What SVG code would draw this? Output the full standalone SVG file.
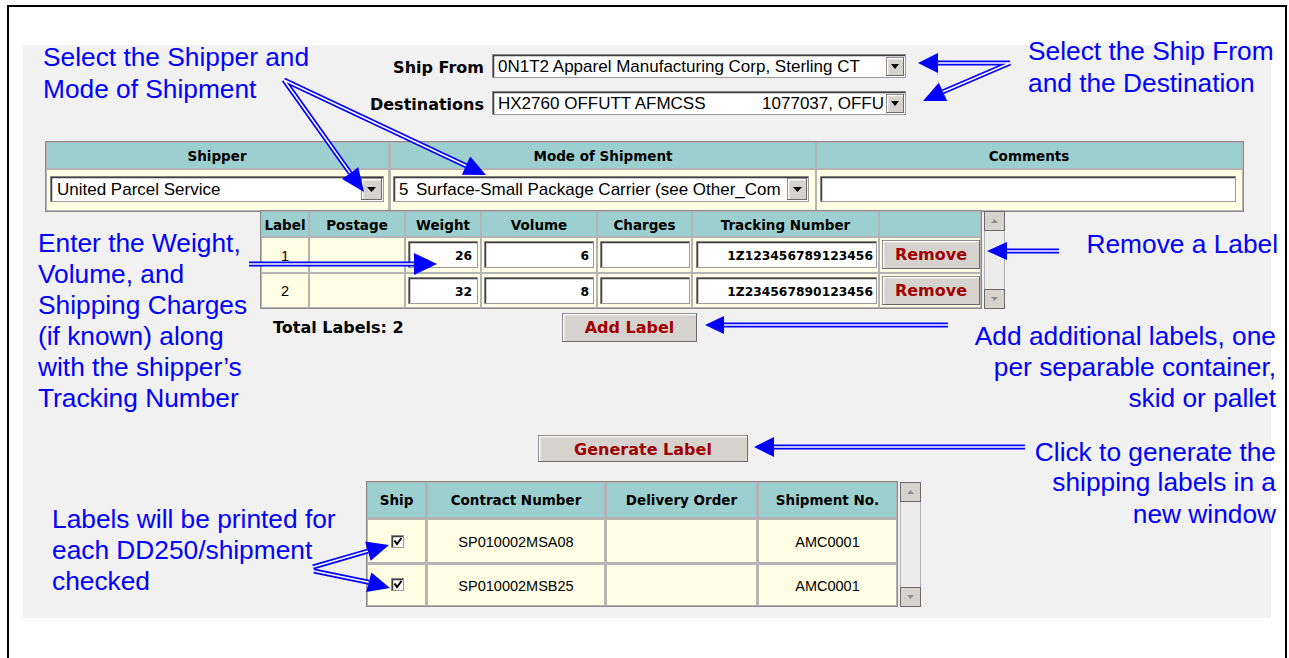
<svg xmlns="http://www.w3.org/2000/svg" width="1289" height="658" viewBox="0 0 1289 658">
<style>
.ann{font-family:"Liberation Sans",Arial,sans-serif;font-size:26.3px;fill:#0000ff}
.end{text-anchor:end}
.hdr{font-family:"DejaVu Sans",Verdana,sans-serif;font-weight:bold;font-size:13.5px;fill:#000;text-anchor:middle}
.lbl{font-family:"DejaVu Sans",Verdana,sans-serif;font-weight:bold;font-size:16px;fill:#000}
.ui{font-family:"Liberation Sans",Arial,sans-serif;font-size:17px;fill:#000}
.cell{font-family:"Liberation Sans",Arial,sans-serif;font-size:14.5px;fill:#000;text-anchor:middle}
.val{font-family:"DejaVu Sans",Verdana,sans-serif;font-weight:bold;font-size:12.3px;fill:#000;text-anchor:end}
.btxt{font-family:"DejaVu Sans",Verdana,sans-serif;font-weight:bold;font-size:16px;fill:#a00000;text-anchor:middle}
.th{fill:#9ccfcf}
.tr{fill:#fffde3}
.frame{fill:#b4b4b4;stroke:#8a8a8a;stroke-width:1}
.box{fill:#fff;stroke:#9a9a9a;stroke-width:1}
.boxd{fill:none;stroke:#404040;stroke-width:1.5}
.btn{fill:#d6d3ce;stroke:#6a6a6a;stroke-width:1}
.btnl{fill:none;stroke:#fff;stroke-width:1.5}
.tri{fill:#000}
.sb{fill:#ececec;stroke:#b0b0b0;stroke-width:1}
.sh1{fill:none;stroke:#0000ff;stroke-width:5}
.sh2{fill:none;stroke:#ffffff;stroke-width:1.6}
.head{fill:#0000ff}
</style>

<rect x="0" y="0" width="1289" height="658" fill="#ffffff"/>
<rect x="23" y="45" width="1248" height="573" fill="#f1f1f1"/>
<rect x="8" y="6" width="1278" height="700" fill="none" stroke="#000" stroke-width="2"/>

<!-- Ship From / Destinations -->
<g id="shipfrom">
  <text class="lbl end" x="484" y="73">Ship From</text>
  <rect class="box" x="492.5" y="54.5" width="413" height="23"/>
  <path class="boxd" d="M493.5,77 V55.5 H905"/>
  <text class="ui" x="498" y="72">0N1T2 Apparel Manufacturing Corp, Sterling CT</text>
  <rect class="btn" x="886.5" y="57.5" width="17" height="18"/>
  <path class="btnl" d="M887.5,75 V58.5 H903"/>
  <polygon class="tri" points="891,64 899,64 895,69"/>
</g>
<g id="destinations">
  <text class="lbl end" x="484" y="110">Destinations</text>
  <rect class="box" x="492.5" y="91.5" width="413" height="23"/>
  <path class="boxd" d="M493.5,114 V92.5 H905"/>
  <text class="ui" x="498" y="109">HX2760 OFFUTT AFMCSS</text>
  <text class="ui end" x="884" y="109">1077037, OFFU</text>
  <rect class="btn" x="886.5" y="94.5" width="17" height="18"/>
  <path class="btnl" d="M887.5,112 V95.5 H903"/>
  <polygon class="tri" points="891,101 899,101 895,106"/>
</g>

<!-- Shipper table -->
<g id="shipper-table">
  <rect class="frame" x="45.5" y="141.5" width="1198" height="70"/>
  <rect class="th" x="47" y="143" width="341" height="25"/>
  <rect class="th" x="391" y="143" width="424" height="25"/>
  <rect class="th" x="817" y="143" width="425" height="25"/>
  <rect class="tr" x="47" y="170" width="341" height="40"/>
  <rect class="tr" x="391" y="170" width="424" height="40"/>
  <rect class="tr" x="817" y="170" width="425" height="40"/>
  <text class="hdr" x="217" y="161">Shipper</text>
  <text class="hdr" x="603" y="161">Mode of Shipment</text>
  <text class="hdr" x="1029" y="161">Comments</text>
</g>
<g id="shipper-select">
  <rect class="box" x="50.5" y="176.5" width="333" height="25"/>
  <path class="boxd" d="M51.5,201 V177.5 H383"/>
  <text class="ui" x="57" y="195">United Parcel Service</text>
  <rect class="btn" x="361.5" y="178.5" width="20" height="21"/>
  <path class="btnl" d="M362.5,199 V179.5 H381"/>
  <polygon class="tri" points="367,187 376,187 371.5,192"/>
</g>
<g id="mode-select">
  <rect class="box" x="393.5" y="176.5" width="415" height="25"/>
  <path class="boxd" d="M394.5,201 V177.5 H808"/>
  <text class="ui" x="399" y="195">5</text>
  <text class="ui" x="416" y="195">Surface-Small Package Carrier (see Other_Com</text>
  <rect class="btn" x="787.5" y="178.5" width="19" height="21"/>
  <path class="btnl" d="M788.5,199 V179.5 H806"/>
  <polygon class="tri" points="793,187 802,187 797.5,192"/>
</g>
<g id="comments-input">
  <rect class="box" x="820.5" y="176.5" width="415" height="25"/>
  <path class="boxd" d="M821.5,201 V177.5 H1235"/>
</g>

<!-- Label table -->
<g id="label-table">
  <rect class="frame" x="260.5" y="210.5" width="721" height="98"/>
  <rect class="th" x="262" y="212" width="46" height="24"/>
  <rect class="th" x="310" y="212" width="94" height="24"/>
  <rect class="th" x="406" y="212" width="74" height="24"/>
  <rect class="th" x="482" y="212" width="114" height="24"/>
  <rect class="th" x="598" y="212" width="93" height="24"/>
  <rect class="th" x="693" y="212" width="185" height="24"/>
  <rect class="th" x="880" y="212" width="100" height="24"/>
  <rect class="tr" x="262" y="238" width="46" height="34"/>
  <rect class="tr" x="310" y="238" width="94" height="34"/>
  <rect class="tr" x="406" y="238" width="74" height="34"/>
  <rect class="tr" x="482" y="238" width="114" height="34"/>
  <rect class="tr" x="598" y="238" width="93" height="34"/>
  <rect class="tr" x="693" y="238" width="185" height="34"/>
  <rect class="tr" x="880" y="238" width="100" height="34"/>
  <rect class="tr" x="262" y="274" width="46" height="33"/>
  <rect class="tr" x="310" y="274" width="94" height="33"/>
  <rect class="tr" x="406" y="274" width="74" height="33"/>
  <rect class="tr" x="482" y="274" width="114" height="33"/>
  <rect class="tr" x="598" y="274" width="93" height="33"/>
  <rect class="tr" x="693" y="274" width="185" height="33"/>
  <rect class="tr" x="880" y="274" width="100" height="33"/>
  <text class="hdr" x="285" y="230">Label</text>
  <text class="hdr" x="357" y="230">Postage</text>
  <text class="hdr" x="443" y="230">Weight</text>
  <text class="hdr" x="539" y="230">Volume</text>
  <text class="hdr" x="644.5" y="230">Charges</text>
  <text class="hdr" x="785.5" y="230">Tracking Number</text>
  <text class="cell" x="285" y="261">1</text>
  <text class="cell" x="285" y="296">2</text>
</g>
<g id="row1-inputs">
  <rect class="box" x="408.5" y="241.5" width="69" height="26"/>
  <path class="boxd" d="M409.5,267 V242.5 H477"/>
  <text class="val" x="472" y="260">26</text>
  <rect class="box" x="484.5" y="241.5" width="109" height="26"/>
  <path class="boxd" d="M485.5,267 V242.5 H593"/>
  <text class="val" x="589" y="260">6</text>
  <rect class="box" x="600.5" y="241.5" width="89" height="26"/>
  <path class="boxd" d="M601.5,267 V242.5 H689"/>
  <rect class="box" x="696.5" y="241.5" width="180" height="26"/>
  <path class="boxd" d="M697.5,267 V242.5 H876"/>
  <text class="val" x="873" y="260">1Z123456789123456</text>
</g>
<g id="row2-inputs">
  <rect class="box" x="408.5" y="277.5" width="69" height="26"/>
  <path class="boxd" d="M409.5,303 V278.5 H477"/>
  <text class="val" x="472" y="296">32</text>
  <rect class="box" x="484.5" y="277.5" width="109" height="26"/>
  <path class="boxd" d="M485.5,303 V278.5 H593"/>
  <text class="val" x="589" y="296">8</text>
  <rect class="box" x="600.5" y="277.5" width="89" height="26"/>
  <path class="boxd" d="M601.5,303 V278.5 H689"/>
  <rect class="box" x="696.5" y="277.5" width="180" height="26"/>
  <path class="boxd" d="M697.5,303 V278.5 H876"/>
  <text class="val" x="873" y="296">1Z234567890123456</text>
</g>
<g id="remove-btn-1">
  <rect class="btn" x="882.5" y="240.5" width="97" height="28"/>
  <path class="btnl" d="M883.5,268 V241.5 H979"/>
  <text class="btxt" x="931" y="260">Remove</text>
</g>
<g id="remove-btn-2">
  <rect class="btn" x="882.5" y="276.5" width="97" height="28"/>
  <path class="btnl" d="M883.5,304 V277.5 H979"/>
  <text class="btxt" x="931" y="296">Remove</text>
</g>
<g id="label-scrollbar">
  <rect class="sb" x="984.5" y="211.5" width="20" height="97"/>
  <rect class="btn" x="984.5" y="211.5" width="20" height="19"/>
  <polygon points="991,223 998,223 994.5,219" fill="#909090"/>
  <rect class="btn" x="984.5" y="289.5" width="20" height="19"/>
  <polygon points="991,297 998,297 994.5,301" fill="#909090"/>
</g>
<g id="total-labels">
  <text class="lbl" x="273" y="333">Total Labels: 2</text>
</g>
<g id="add-label-btn">
  <rect class="btn" x="562.5" y="313.5" width="134" height="28"/>
  <path class="btnl" d="M563.5,341 V314.5 H696"/>
  <text class="btxt" x="629.5" y="333">Add Label</text>
</g>
<g id="generate-label-btn">
  <rect class="btn" x="538.5" y="435.5" width="209" height="26"/>
  <path class="btnl" d="M539.5,461 V436.5 H747"/>
  <text class="btxt" x="643" y="455">Generate Label</text>
</g>

<!-- Shipment table -->
<g id="shipment-table">
  <rect class="frame" x="366.5" y="481.5" width="531" height="125"/>
  <rect class="th" x="368" y="483" width="57" height="34"/>
  <rect class="th" x="428" y="483" width="176" height="34"/>
  <rect class="th" x="607" y="483" width="149" height="34"/>
  <rect class="th" x="759" y="483" width="137" height="34"/>
  <rect class="tr" x="368" y="520" width="57" height="42"/>
  <rect class="tr" x="428" y="520" width="176" height="42"/>
  <rect class="tr" x="607" y="520" width="149" height="42"/>
  <rect class="tr" x="759" y="520" width="137" height="42"/>
  <rect class="tr" x="368" y="565" width="57" height="40"/>
  <rect class="tr" x="428" y="565" width="176" height="40"/>
  <rect class="tr" x="607" y="565" width="149" height="40"/>
  <rect class="tr" x="759" y="565" width="137" height="40"/>
  <text class="hdr" x="396.5" y="505">Ship</text>
  <text class="hdr" x="516" y="505">Contract Number</text>
  <text class="hdr" x="681.5" y="505">Delivery Order</text>
  <text class="hdr" x="827.5" y="505">Shipment No.</text>
  <text class="cell" x="516" y="547">SP010002MSA08</text>
  <text class="cell" x="827.5" y="547">AMC0001</text>
  <text class="cell" x="516" y="591">SP010002MSB25</text>
  <text class="cell" x="827.5" y="591">AMC0001</text>
</g>
<g id="checkbox-1">
  <rect class="box" x="391.5" y="535.5" width="12" height="12"/>
  <path class="boxd" d="M392.5,547 V536.5 H403"/>
  <path d="M394.5,540.5 L397,544 L401.5,538" fill="none" stroke="#000" stroke-width="2"/>
</g>
<g id="checkbox-2">
  <rect class="box" x="391.5" y="578.5" width="12" height="12"/>
  <path class="boxd" d="M392.5,590 V579.5 H403"/>
  <path d="M394.5,583.5 L397,587 L401.5,581" fill="none" stroke="#000" stroke-width="2"/>
</g>
<g id="shipment-scrollbar">
  <rect class="sb" x="900.5" y="482.5" width="20" height="124"/>
  <rect class="btn" x="900.5" y="482.5" width="20" height="19"/>
  <polygon points="907,494 914,494 910.5,490" fill="#909090"/>
  <rect class="btn" x="900.5" y="587.5" width="20" height="19"/>
  <polygon points="907,595 914,595 910.5,599" fill="#909090"/>
</g>

<!-- Connectors -->
<g id="connectors">
  <path class="sh1" d="M284,80 L350.2,173.1 M284,80 L466,165.7 M1010,63 L938,63 M1010,63 L943,91.8 M249,264 L414,264 M1059,251 L1007,251 M948,325 L724,325 M1025,447 L774,447 M313,567 L367.9,551.1 M314,571 L368.8,582.2"/>
  <path class="sh2" d="M284,80 L350.2,173.1 M284,80 L466,165.7 M1010,63 L938,63 M1010,63 L943,91.8 M249,264 L414,264 M1059,251 L1007,251 M948,325 L724,325 M1025,447 L774,447 M313,567 L367.9,551.1 M314,571 L368.8,582.2"/>
  <polygon class="head" points="364,192 342.1,178.9 358.3,167.3"/>
  <polygon class="head" points="486,175 461.8,174.8 470.2,156.6"/>
  <polygon class="head" points="918,63 938,53 938,73"/>
  <polygon class="head" points="923,101 938.8,82.7 947.2,100.9"/>
  <polygon class="head" points="437,264 414,253 414,275"/>
  <polygon class="head" points="987,251 1007,242 1007,260"/>
  <polygon class="head" points="705,325 724,316 724,334"/>
  <polygon class="head" points="754,447 774,437 774,457"/>
  <polygon class="head" points="389,545 370.7,560.7 365.1,541.5"/>
  <polygon class="head" points="390,588 366.2,591.9 371.4,572.5"/>
</g>

<!-- Annotations -->
<g id="note-shipper">
  <text class="ann" x="43" y="66">Select the Shipper and</text>
  <text class="ann" x="43" y="98">Mode of Shipment</text>
</g>
<g id="note-shipfrom">
  <text class="ann" x="1028" y="60">Select the Ship From</text>
  <text class="ann" x="1028" y="92">and the Destination</text>
</g>
<g id="note-enter">
  <text class="ann" x="38" y="252">Enter the Weight,</text>
  <text class="ann" x="38" y="283">Volume, and</text>
  <text class="ann" x="38" y="314">Shipping Charges</text>
  <text class="ann" x="38" y="345">(if known) along</text>
  <text class="ann" x="38" y="376">with the shipper’s</text>
  <text class="ann" x="38" y="407">Tracking Number</text>
</g>
<g id="note-remove">
  <text class="ann end" x="1278" y="253">Remove a Label</text>
</g>
<g id="note-add">
  <text class="ann end" x="1276" y="345">Add additional labels, one</text>
  <text class="ann end" x="1276" y="376">per separable container,</text>
  <text class="ann end" x="1276" y="407">skid or pallet</text>
</g>
<g id="note-generate">
  <text class="ann end" x="1276" y="461">Click to generate the</text>
  <text class="ann end" x="1276" y="491">shipping labels in a</text>
  <text class="ann end" x="1276" y="523">new window</text>
</g>
<g id="note-labels">
  <text class="ann" x="52" y="528">Labels will be printed for</text>
  <text class="ann" x="52" y="559">each DD250/shipment</text>
  <text class="ann" x="52" y="590">checked</text>
</g>
</svg>
